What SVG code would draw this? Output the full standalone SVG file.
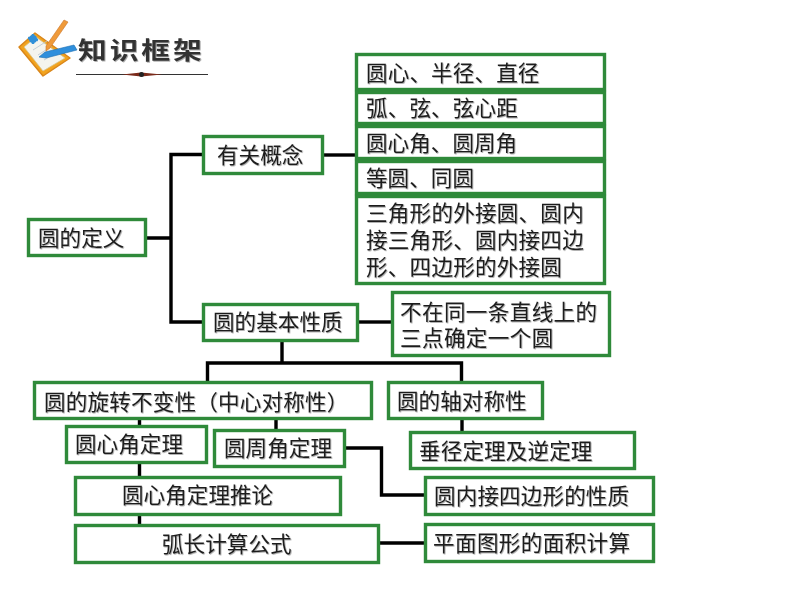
<svg xmlns="http://www.w3.org/2000/svg" width="794" height="596" viewBox="0 0 794 596">
<defs>
<style>
.n{fill:#fff;stroke:#2f8a3a;stroke-width:3.4}
.c{fill:none;stroke:#000;stroke-width:3.4}
.t{font-family:"Noto Sans CJK SC","Liberation Sans",sans-serif;font-size:21.6px;fill:#1a1a1a;filter:url(#s)}
.h{font-family:"Noto Sans CJK SC","Liberation Sans",sans-serif;font-size:24px;font-weight:700;fill:#333;letter-spacing:2.4px;filter:url(#s)}
</style>
<filter id="s" x="-5%" y="-20%" width="110%" height="140%"><feDropShadow dx="0.8" dy="0.8" stdDeviation="0.5" flood-color="#777" flood-opacity="0.7"/></filter>
</defs>
<rect width="794" height="596" fill="#fff"/>
<g id="header">
<polygon points="19,47 35,33 70,58 43,76" fill="#f2a31e" stroke="#d9861a" stroke-width="1.500" stroke-linejoin="round"/>
<polygon points="24,47 36,37 65,58 43,71" fill="#f4f4ee" stroke="#d8c48a" stroke-width="0.800"/>
<path d="M33 50L47 41M38 55L52 46M44 60L58 52" stroke="#b8c4d0" stroke-width="0.800" fill="none"/>
<circle cx="33" cy="39" r="4" fill="#2f8fd8"/>
<path d="M28 38L38 40M33 34V44" stroke="#2f8fd8" stroke-width="2.500" fill="none"/>
<polygon points="64,20 68,22 50,48 46,51 46,46" fill="#ef9a3a" stroke="#c9762a" stroke-width="0.600"/>
<polygon points="74,45 77,50 46,58 39,57 45,52" fill="#2f8fdc" stroke="#1f6fb0" stroke-width="0.600"/>
<text class="h" transform="translate(78,59) scale(1.2,1)">知识框架</text>
<path d="M76 74.500H208" stroke="#333" stroke-width="1"/>
<polygon points="122,74.500 141,72.500 162,74.500 141,76.500" fill="#7a2a1a"/>
<circle cx="141.500" cy="74.500" r="2.500" fill="#222"/>
</g>
<g id="connectors">
<path class="c" d="M147 238H171M202 154.500H171V322H202"/>
<path class="c" d="M324 155H355"/>
<path class="c" d="M359 322H391"/>
<path class="c" d="M282 342V363M207.500 381V363H461.500V381"/>
<path class="c" d="M139.500 420V425M139.500 464V476M139.500 516V524"/>
<path class="c" d="M276 420V429"/>
<path class="c" d="M462 420V431"/>
<path class="c" d="M346 448H381.500V495H424"/>
<path class="c" d="M380 543H424"/>
</g>
<g id="n1"><rect class="n" x="28.500" y="219.500" width="117" height="36"/><text class="t" x="38" y="245.500">圆的定义</text></g>
<g id="n2"><rect class="n" x="203.500" y="136.500" width="119" height="37"/><text class="t" x="217" y="162.500">有关概念</text></g>
<g id="n3"><rect class="n" x="203.500" y="304.500" width="154" height="36"/><text class="t" x="213" y="330">圆的基本性质</text></g>
<g id="n4"><rect class="n" x="356.500" y="54.500" width="248" height="35"/><text class="t" x="366" y="81.300" letter-spacing="0.100">圆心、半径、直径</text></g>
<g id="n5"><rect class="n" x="356.500" y="92.500" width="248" height="31"/><text class="t" x="366" y="116" letter-spacing="0.100">弧、弦、弦心距</text></g>
<g id="n6"><rect class="n" x="356.500" y="126.500" width="248" height="32"/><text class="t" x="366" y="151">圆心角、圆周角</text></g>
<g id="n7"><rect class="n" x="356.500" y="161.500" width="248" height="32"/><text class="t" x="366" y="186">等圆、同圆</text></g>
<g id="n8"><rect class="n" x="356.500" y="196.500" width="248" height="87"/><text class="t" letter-spacing="0.200"><tspan x="366" y="221">三角形的外接圆、圆内</tspan><tspan x="366" y="248">接三角形、圆内接四边</tspan><tspan x="366" y="275">形、四边形的外接圆</tspan></text></g>
<g id="n9"><rect class="n" x="392.500" y="292.500" width="217" height="63"/><text class="t" letter-spacing="0.350"><tspan x="400" y="319.700">不在同一条直线上的</tspan><tspan x="400" y="346">三点确定一个圆</tspan></text></g>
<g id="n10"><rect class="n" x="34.500" y="382.500" width="337" height="36"/><text class="t" x="44" y="409.700" letter-spacing="0.150">圆的旋转不变性（中心对称性）</text></g>
<g id="n11"><rect class="n" x="388.500" y="382.500" width="154" height="36"/><text class="t" x="397" y="409">圆的轴对称性</text></g>
<g id="n12"><rect class="n" x="66.500" y="426.500" width="140" height="36"/><text class="t" x="75" y="452">圆心角定理</text></g>
<g id="n13"><rect class="n" x="214.500" y="430.500" width="130" height="36"/><text class="t" x="224" y="456">圆周角定理</text></g>
<g id="n14"><rect class="n" x="410.500" y="432.500" width="224" height="36"/><text class="t" x="419" y="459" letter-spacing="0.100">垂径定理及逆定理</text></g>
<g id="n15"><rect class="n" x="75.500" y="477.500" width="265" height="37"/><text class="t" x="122" y="503">圆心角定理推论</text></g>
<g id="n16"><rect class="n" x="425.500" y="477.500" width="228" height="37"/><text class="t" x="434" y="504" letter-spacing="0.100">圆内接四边形的性质</text></g>
<g id="n17"><rect class="n" x="75.500" y="525.500" width="303" height="37"/><text class="t" x="162" y="552">弧长计算公式</text></g>
<g id="n18"><rect class="n" x="425.500" y="524.500" width="228" height="37"/><text class="t" x="433" y="551" letter-spacing="0.350">平面图形的面积计算</text></g>
</svg>
